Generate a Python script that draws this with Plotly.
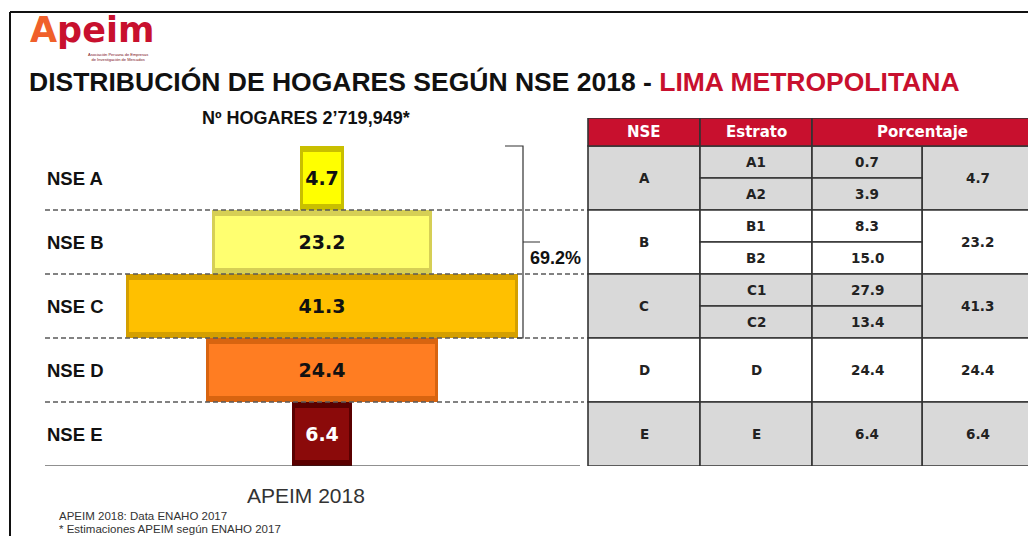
import plotly.graph_objects as go

# funnel data (percent of households, Lima Metropolitana 2018)
niveles = ["NSE A", "NSE B", "NSE C", "NSE D", "NSE E"]
pct_nse = [4.7, 23.2, 41.3, 24.4, 6.4]
color_bar = ["#ffff00", "#ffff70", "#ffc000", "#ff7d22", "#8b0a0a"]
color_borde = ["#c9bf00", "#d6cf55", "#d49f00", "#d86410", "#5a0000"]
color_texto = ["#111111", "#111111", "#111111", "#111111", "#ffffff"]

# table data
tabla_nse = ["A", "B", "C", "D", "E"]
tabla_fondo = ["#d9d9d9", "#ffffff", "#d9d9d9", "#ffffff", "#d9d9d9"]
estrato = ["A1", "A2", "B1", "B2", "C1", "C2", "D", "E"]
estrato_nse = ["A", "A", "B", "B", "C", "C", "D", "E"]
pct_estrato = [0.7, 3.9, 8.3, 15.0, 27.9, 13.4, 24.4, 6.4]
encabezado = ["NSE", "Estrato", "Porcentaje"]

# page has an 8px body margin, so the figure is 8px smaller on each axis
OFF = 8
W, H = 1036 - OFF, 536 - OFF
px = lambda v: (v - OFF) / W
py = lambda v: 1 - (v - OFF) / H

ARIAL = "Arial, Liberation Sans, sans-serif"
HEAVY = "DejaVu Sans, Arial, sans-serif"

fila = [len(niveles) - 1 - i for i in range(len(niveles))]  # A on top

escala = 9.5  # pixels per percent
centro = 322 - 45
ancho = 585 - 45

fig = go.Figure()
# outer (darker) bar = bevel edge
fig.add_trace(go.Bar(
    orientation="h", y=fila, x=pct_nse, base=[-v / 2 for v in pct_nse],
    width=1.0, marker=dict(color=color_borde, line=dict(width=0)),
    hoverinfo="skip", showlegend=False))
# inner bar with label
ins = 0.7
fig.add_trace(go.Bar(
    orientation="h", y=fila, x=[v - ins for v in pct_nse],
    base=[-(v - ins) / 2 for v in pct_nse], width=0.82,
    marker=dict(color=color_bar, line=dict(width=0)),
    text=[f"{v:.1f}" for v in pct_nse], textposition="inside",
    insidetextanchor="middle", textangle=0, constraintext="none",
    textfont=dict(family=HEAVY, size=19, color=color_texto),
    texttemplate="<b>%{text}</b>", showlegend=False))

shapes = []
ann = []


def texto(x, y, t, size, color="#111111", family=ARIAL, xanchor="center", yref="paper"):
    ann.append(dict(x=x, y=y, xref="paper", yref=yref, text=t, showarrow=False,
                    xanchor=xanchor, yanchor="middle",
                    font=dict(size=size, color=color, family=family)))


# row labels and separators
for n, y in zip(niveles, fila):
    texto(px(45), y, f"<b>{n}</b>", 18.5, xanchor="left", yref="y")
for y in fila[1:]:
    shapes.append(dict(type="line", xref="paper", yref="y", x0=px(45), x1=px(584),
                       y0=y + 0.5, y1=y + 0.5,
                       line=dict(color="#5a5a5a", width=1.5, dash="5px,3px")))
shapes.append(dict(type="line", xref="paper", yref="y", x0=px(45), x1=px(580),
                   y0=-0.5, y1=-0.5, line=dict(color="#222222", width=1.2)))

# bracket A+B+C
top, mid, bot = fila[0] + 0.5, fila[1], fila[2] - 0.5
bx = px(523)
shapes.append(dict(type="path", xref="paper", yref="y",
                   path=f"M {px(505)},{top} L {bx},{top} L {bx},{bot} L {px(517)},{bot} "
                        f"M {bx},{mid} L {px(540)},{mid}",
                   line=dict(color="#333333", width=1.2)))
texto(px(528), fila[1] - 0.25, f"<b>{sum(pct_nse[:3]):.1f}%</b>", 18, xanchor="left", yref="y")

# table
cols = [588, 700, 812, 922, 1033]
linea = dict(color="#333333", width=1.6)
cab_y0, cab_y1 = fila[0] + 0.5, fila[0] + 0.5 + 28 / 64
cab_x = [(cols[0], cols[1]), (cols[1], cols[2]), (cols[2], cols[4])]
for t, (a, b) in zip(encabezado, cab_x):
    shapes.append(dict(type="rect", xref="paper", yref="y", x0=px(a), x1=px(b),
                       y0=cab_y0, y1=cab_y1, fillcolor="#c8102e", line=linea))
    texto(px((a + b) / 2), (cab_y0 + cab_y1) / 2, f"<b>{t}</b>", 15,
          color="#ffffff", family=HEAVY, yref="y")

for g, y, fondo, tot in zip(tabla_nse, fila, tabla_fondo, pct_nse):
    y0, y1 = y - 0.5, y + 0.5
    for a, b, t in [(cols[0], cols[1], g), (cols[3], cols[4], f"{tot:.1f}")]:
        shapes.append(dict(type="rect", xref="paper", yref="y", x0=px(a), x1=px(b),
                           y0=y0, y1=y1, fillcolor=fondo, line=linea, layer="below"))
        texto(px((a + b) / 2), y, f"<b>{t}</b>", 13.5, color="#222222", family=HEAVY, yref="y")
    subs = [(e, p) for e, n, p in zip(estrato, estrato_nse, pct_estrato) if n == g]
    h = 1.0 / len(subs)
    for k, (e, p) in enumerate(subs):
        s1 = y1 - k * h
        s0 = s1 - h
        for a, b, t in [(cols[1], cols[2], e), (cols[2], cols[3], f"{p:.1f}")]:
            shapes.append(dict(type="rect", xref="paper", yref="y", x0=px(a), x1=px(b),
                               y0=s0, y1=s1, fillcolor=fondo, line=linea, layer="below"))
            texto(px((a + b) / 2), (s0 + s1) / 2, f"<b>{t}</b>", 13.5,
                  color="#222222", family=HEAVY, yref="y")

# frame
shapes.append(dict(type="line", xref="paper", yref="paper", x0=px(10), x1=1,
                   y0=py(12), y1=py(12), line=dict(color="#111111", width=2)))
shapes.append(dict(type="line", xref="paper", yref="paper", x0=px(10), x1=px(10),
                   y0=py(12), y1=0, line=dict(color="#111111", width=2)))

# logo
texto(px(28), py(30), "<b><span style='color:#f0602a'>A</span>peim</b>", 35,
      color="#c8102e", family=HEAVY, xanchor="left")
ann.append(dict(x=px(118), y=py(57), xref="paper", yref="paper",
                xanchor="center", yanchor="middle",
                text="Asociación Peruana de Empresas<br>de Investigación de Mercados",
                showarrow=False, align="center",
                font=dict(size=4, color="#7a1020", family=ARIAL)))

# titles
texto(px(27), py(82), "<b>DISTRIBUCIÓN DE HOGARES SEGÚN NSE 2018 - "
      "<span style='color:#c8102e'>LIMA METROPOLITANA</span></b>", 26.5, xanchor="left")
texto(px(306), py(118), "<b>Nº HOGARES 2’719,949*</b>", 18)
texto(px(306), py(495), "APEIM 2018", 21, color="#333333")
texto(px(57), py(516), "APEIM 2018: Data ENAHO 2017", 11.5, color="#333333", xanchor="left")
texto(px(57), py(529), "* Estimaciones APEIM según ENAHO 2017", 11.5, color="#333333",
      xanchor="left")

fig.update_layout(
    width=W, height=H, margin=dict(l=0, r=0, t=0, b=0),
    paper_bgcolor="#ffffff", plot_bgcolor="rgba(0,0,0,0)",
    barmode="overlay", bargap=0,
    font=dict(family=ARIAL),
    xaxis=dict(domain=[px(45), px(585)],
               range=[-centro / escala, (ancho - centro) / escala],
               visible=False, fixedrange=True),
    yaxis=dict(domain=[py(466), py(118)], range=[-0.5, fila[0] + 0.5 + 28 / 64],
               visible=False, fixedrange=True),
    shapes=shapes, annotations=ann)

fig.write_html("out.html")
